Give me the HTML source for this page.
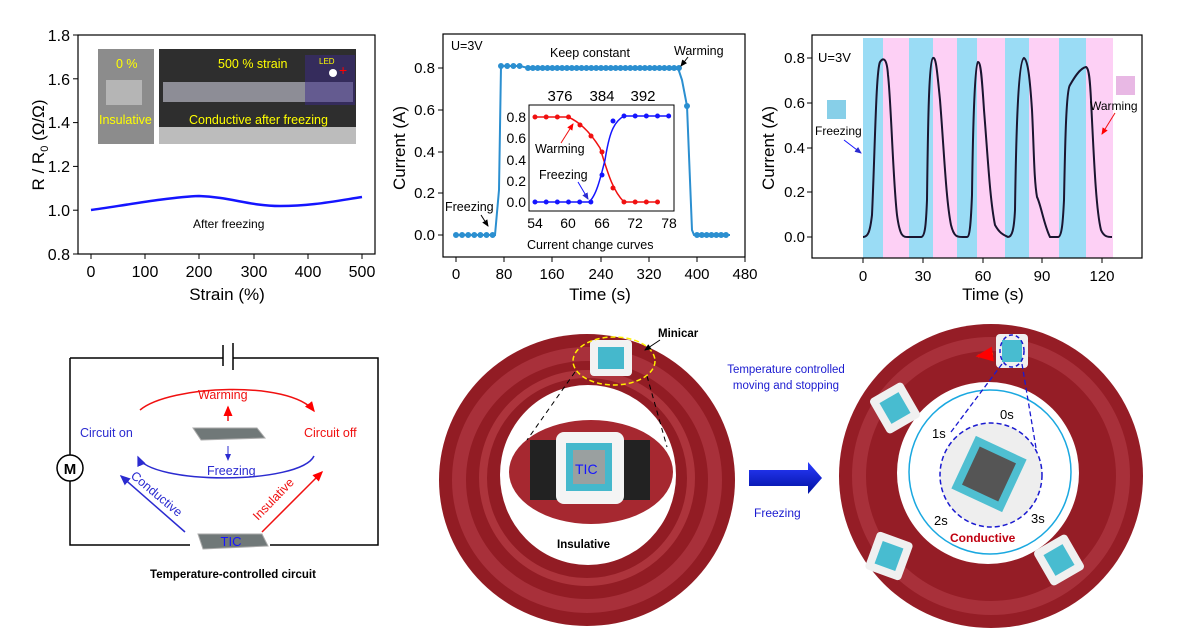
<!DOCTYPE html>
<html><head><meta charset="utf-8"><style>
body{margin:0;background:#fff;}
svg{display:block;font-family:"Liberation Sans",Arial,sans-serif;}
</style></head><body>
<svg width="1179" height="630" viewBox="0 0 1179 630" xmlns="http://www.w3.org/2000/svg">
<defs>
<marker id="ab" markerWidth="8" markerHeight="8" refX="6" refY="3" orient="auto"><path d="M0,0 L7,3 L0,6z" fill="#2b2bd0"/></marker>
<marker id="ar" markerWidth="8" markerHeight="8" refX="6" refY="3" orient="auto"><path d="M0,0 L7,3 L0,6z" fill="#f00"/></marker>
<marker id="ak" markerWidth="8" markerHeight="8" refX="6" refY="3" orient="auto"><path d="M0,0 L7,3 L0,6z" fill="#000"/></marker>
<marker id="ac" markerWidth="8" markerHeight="8" refX="6" refY="3" orient="auto"><path d="M0,0 L7,3 L0,6z" fill="#1aa8e0"/></marker>
<linearGradient id="bar" x1="0" y1="0" x2="0" y2="1"><stop offset="0" stop-color="#2a3cff"/><stop offset="1" stop-color="#0010a0"/></linearGradient>
</defs>

<!-- ===== Panel 1 ===== -->
<rect x="78" y="35" width="297" height="219" fill="none" stroke="#000" stroke-width="1.2"/>
<g stroke="#000" stroke-width="1">
<line x1="78" y1="35" x2="73" y2="35"/><line x1="78" y1="78.8" x2="73" y2="78.8"/><line x1="78" y1="122.6" x2="73" y2="122.6"/><line x1="78" y1="166.4" x2="73" y2="166.4"/><line x1="78" y1="210.2" x2="73" y2="210.2"/><line x1="78" y1="254" x2="73" y2="254"/>
<line x1="91" y1="254" x2="91" y2="259"/><line x1="145" y1="254" x2="145" y2="259"/><line x1="199" y1="254" x2="199" y2="259"/><line x1="254" y1="254" x2="254" y2="259"/><line x1="308" y1="254" x2="308" y2="259"/><line x1="362" y1="254" x2="362" y2="259"/>
</g>
<g font-size="16" text-anchor="end">
<text x="70" y="41">1.8</text><text x="70" y="85">1.6</text><text x="70" y="128">1.4</text><text x="70" y="172">1.2</text><text x="70" y="216">1.0</text><text x="70" y="260">0.8</text>
</g>
<g font-size="16" text-anchor="middle">
<text x="91" y="277">0</text><text x="145" y="277">100</text><text x="199" y="277">200</text><text x="254" y="277">300</text><text x="308" y="277">400</text><text x="362" y="277">500</text>
<text x="227" y="300" font-size="17">Strain (%)</text>
</g>
<text transform="translate(44,145) rotate(-90)" font-size="17" text-anchor="middle">R / R<tspan font-size="11" dy="4">0</tspan><tspan dy="-4"> (Ω/Ω)</tspan></text>
<rect x="98" y="49" width="56" height="95" fill="#8c8c8c"/>
<rect x="106" y="80" width="36" height="25" fill="#b5b5b5"/>
<rect x="159" y="49" width="197" height="95" fill="#2e2e2e"/>
<rect x="163" y="82" width="190" height="20" fill="#8d8d96"/>
<rect x="159" y="127" width="197" height="17" fill="#bcbcbc"/>
<rect x="305" y="55" width="50" height="50" fill="#3b2a8a" opacity="0.5"/>
<circle cx="333" cy="73" r="4" fill="#fff"/>
<text x="339" y="75" fill="#f00" font-size="14">+</text>
<g fill="#ffff00" font-size="12.5">
<text x="116" y="68">0 %</text><text x="218" y="68">500 % strain</text><text x="319" y="64" font-size="8">LED</text>
<text x="99" y="124">Insulative</text><text x="189" y="124">Conductive after freezing</text>
</g>
<path d="M91,210 C120,206 170,197 199,196 C230,197 250,206 280,206 C310,206 330,202 362,197" fill="none" stroke="#1515ff" stroke-width="2.5"/>
<text x="193" y="228" font-size="12">After freezing</text>

<!-- ===== Panel 2 ===== -->
<rect x="443" y="34" width="302" height="223" fill="none" stroke="#000" stroke-width="1.2"/>
<g stroke="#000" stroke-width="1">
<line x1="443" y1="68" x2="438" y2="68"/><line x1="443" y1="110" x2="438" y2="110"/><line x1="443" y1="152" x2="438" y2="152"/><line x1="443" y1="193" x2="438" y2="193"/><line x1="443" y1="235" x2="438" y2="235"/>
<line x1="456" y1="257" x2="456" y2="262"/><line x1="504" y1="257" x2="504" y2="262"/><line x1="552" y1="257" x2="552" y2="262"/><line x1="601" y1="257" x2="601" y2="262"/><line x1="649" y1="257" x2="649" y2="262"/><line x1="697" y1="257" x2="697" y2="262"/><line x1="745" y1="257" x2="745" y2="262"/>
</g>
<g font-size="15" text-anchor="end"><text x="435" y="73">0.8</text><text x="435" y="115">0.6</text><text x="435" y="157">0.4</text><text x="435" y="198">0.2</text><text x="435" y="240">0.0</text></g>
<g font-size="15" text-anchor="middle"><text x="456" y="279">0</text><text x="504" y="279">80</text><text x="552" y="279">160</text><text x="601" y="279">240</text><text x="649" y="279">320</text><text x="697" y="279">400</text><text x="745" y="279">480</text>
<text x="600" y="300" font-size="17">Time (s)</text></g>
<text transform="translate(405,148) rotate(-90)" font-size="17" text-anchor="middle">Current (A)</text>
<path d="M456,235 L495,235 L499,190 L501,66 L520,66 L528,68 L678,68 L682,80 L687,106 L692,230 L694,235 L730,235" fill="none" stroke="#2b8fd0" stroke-width="2"/>
<g stroke="#2b8fd0" stroke-width="6" stroke-linecap="round" fill="none">
<path d="M456,235 L493,235" stroke-dasharray="0 6.1"/>
<path d="M501,66 L520,66" stroke-dasharray="0 6.2"/>
<path d="M528,68 L679,68" stroke-dasharray="0 4.87"/>
<path d="M687,106 L687.1,106" stroke-dasharray="0 10"/>
<path d="M697,235 L726,235" stroke-dasharray="0 4.83"/>
</g>
<text x="451" y="50" font-size="12.5">U=3V</text>
<text x="550" y="57" font-size="12.5">Keep constant</text>
<text x="674" y="55" font-size="12.5">Warming</text>
<line x1="688" y1="57" x2="681" y2="66" stroke="#000" marker-end="url(#ak)"/>
<text x="445" y="211" font-size="12.5">Freezing</text>
<line x1="481" y1="215" x2="488" y2="226" stroke="#000" marker-end="url(#ak)"/>
<!-- inset -->
<rect x="529" y="105" width="145" height="106" fill="#fff" stroke="#000"/>
<g font-size="14" text-anchor="end"><text x="526" y="122">0.8</text><text x="526" y="143">0.6</text><text x="526" y="165">0.4</text><text x="526" y="186">0.2</text><text x="526" y="207">0.0</text></g>
<g font-size="14" text-anchor="middle"><text x="535" y="228">54</text><text x="568" y="228">60</text><text x="602" y="228">66</text><text x="635" y="228">72</text><text x="669" y="228">78</text>
<text x="560" y="101" font-size="15">376</text><text x="602" y="101" font-size="15">384</text><text x="643" y="101" font-size="15">392</text></g>
<text x="527" y="249" font-size="12.5">Current change curves</text>
<path d="M535,117 L568,117 C580,122 590,132 600,148 C607,170 612,190 624,202 L658,202" fill="none" stroke="#f01010" stroke-width="1.5"/>
<path d="M535,202 L589,202 C596,196 600,180 605,160 C609,135 613,122 624,116 L669,116" fill="none" stroke="#1515ff" stroke-width="1.5"/>
<g stroke-width="5" stroke-linecap="round">
<path d="M535,117 L569,117" stroke="#f01010" stroke-dasharray="0 11.17"/>
<path d="M624,202 L659,202" stroke="#f01010" stroke-dasharray="0 11.17"/>
<path d="M535,202 L592,202" stroke="#1515ff" stroke-dasharray="0 11.17"/>
<path d="M624,116 L669,116" stroke="#1515ff" stroke-dasharray="0 11.17"/>
</g>
<g fill="#f01010"><circle cx="580" cy="125" r="2.5"/><circle cx="591" cy="136" r="2.5"/><circle cx="602" cy="152" r="2.5"/><circle cx="613" cy="188" r="2.5"/></g>
<g fill="#1515ff"><circle cx="602" cy="175" r="2.5"/><circle cx="613" cy="121" r="2.5"/></g>
<text x="535" y="153" font-size="12.5">Warming</text>
<line x1="561" y1="143" x2="573" y2="124" stroke="#f01010" marker-end="url(#ar)"/>
<text x="539" y="179" font-size="12.5">Freezing</text>
<line x1="578" y1="182" x2="588" y2="199" stroke="#1515ff" marker-end="url(#ab)"/>

<!-- ===== Panel 3 ===== -->
<g>
<rect x="863" y="38" width="20" height="220" fill="#9adcf5"/><rect x="883" y="38" width="26" height="220" fill="#fdd0f5"/>
<rect x="909" y="38" width="24" height="220" fill="#9adcf5"/><rect x="933" y="38" width="24" height="220" fill="#fdd0f5"/>
<rect x="957" y="38" width="20" height="220" fill="#9adcf5"/><rect x="977" y="38" width="28" height="220" fill="#fdd0f5"/>
<rect x="1005" y="38" width="24" height="220" fill="#9adcf5"/><rect x="1029" y="38" width="30" height="220" fill="#fdd0f5"/>
<rect x="1059" y="38" width="27" height="220" fill="#9adcf5"/><rect x="1086" y="38" width="27" height="220" fill="#fdd0f5"/>
</g>
<rect x="812" y="35" width="330" height="223" fill="none" stroke="#000" stroke-width="1.2"/>
<g stroke="#000" stroke-width="1">
<line x1="812" y1="58" x2="807" y2="58"/><line x1="812" y1="103" x2="807" y2="103"/><line x1="812" y1="148" x2="807" y2="148"/><line x1="812" y1="192" x2="807" y2="192"/><line x1="812" y1="237" x2="807" y2="237"/>
<line x1="863" y1="258" x2="863" y2="263"/><line x1="923" y1="258" x2="923" y2="263"/><line x1="983" y1="258" x2="983" y2="263"/><line x1="1042" y1="258" x2="1042" y2="263"/><line x1="1102" y1="258" x2="1102" y2="263"/>
</g>
<g font-size="15" text-anchor="end"><text x="805" y="63">0.8</text><text x="805" y="108">0.6</text><text x="805" y="153">0.4</text><text x="805" y="197">0.2</text><text x="805" y="242">0.0</text></g>
<g font-size="15" text-anchor="middle"><text x="863" y="281">0</text><text x="923" y="281">30</text><text x="983" y="281">60</text><text x="1042" y="281">90</text><text x="1102" y="281">120</text>
<text x="993" y="300" font-size="17">Time (s)</text></g>
<text transform="translate(774,148) rotate(-90)" font-size="17" text-anchor="middle">Current (A)</text>
<path d="M863,237 C868,237 870,232 872,215 C875,150 876,70 880,62 C884,56 887,60 888,75 C891,100 893,180 897,215 C900,237 903,237 908,237 L921,237 C925,237 926,225 927,200 C928,120 929,60 933,58 C936,57 937,70 940,100 C944,150 946,200 951,225 C954,237 957,237 963,237 L967,237 C970,237 971,220 972,195 C973,120 975,64 978,62 C981,62 982,80 984,110 C988,160 990,200 995,225 C1000,234 1004,235 1008,237 C1012,237 1014,230 1015,210 C1016,140 1018,60 1024,58 C1028,60 1030,80 1032,110 C1034,150 1034,180 1037,197 C1041,205 1044,225 1050,237 L1058,237 C1062,237 1063,220 1064,200 C1065,150 1066,90 1070,85 C1074,78 1080,68 1086,67 C1089,68 1090,80 1091,100 C1094,160 1096,210 1101,230 C1104,237 1108,237 1112,237" fill="none" stroke="#1a1530" stroke-width="2"/>
<text x="818" y="62" font-size="13">U=3V</text>
<rect x="827" y="100" width="19" height="19" fill="#87cfe8"/>
<text x="815" y="135" font-size="12">Freezing</text>
<line x1="844" y1="140" x2="861" y2="153" stroke="#1515ff" marker-end="url(#ab)"/>
<rect x="1116" y="76" width="19" height="19" fill="#e8b8e4"/>
<text x="1090" y="110" font-size="12">Warming</text>
<line x1="1115" y1="113" x2="1102" y2="134" stroke="#f01010" marker-end="url(#ar)"/>

<!-- ===== Circuit ===== -->
<path d="M70,358 L223,358 M233,358 L378,358 L378,545 L270,545 M190,545 L70,545 L70,358" fill="none" stroke="#000" stroke-width="1.5"/>
<line x1="223" y1="345" x2="223" y2="366" stroke="#000" stroke-width="1.5"/>
<line x1="233" y1="343" x2="233" y2="370" stroke="#000" stroke-width="1.5"/>
<circle cx="70" cy="468" r="13" fill="#fff" stroke="#000" stroke-width="1.5"/>
<text x="70" y="474" font-size="15" font-weight="bold" text-anchor="middle">M</text>
<path d="M140,410 C170,385 290,380 314,411" fill="none" stroke="#f01010" stroke-width="1.5" marker-end="url(#ar)"/>
<text x="198" y="399" fill="#f01010" font-size="12.5">Warming</text>
<line x1="228" y1="421" x2="228" y2="407" stroke="#f01010" stroke-width="1.5" marker-end="url(#ar)"/>
<path d="M193,428 L257,428 L265,438 L201,440 Z" fill="#707878" stroke="#aaa"/>
<line x1="228" y1="446" x2="228" y2="460" stroke="#2b2bd0" marker-end="url(#ab)"/>
<text x="80" y="437" fill="#2b2bd0" font-size="12.5">Circuit on</text>
<text x="304" y="437" fill="#f01010" font-size="12.5">Circuit off</text>
<path d="M314,456 C300,485 150,485 138,457" fill="none" stroke="#2b2bd0" stroke-width="1.5" marker-end="url(#ab)"/>
<text x="207" y="475" fill="#2b2bd0" font-size="12.5">Freezing</text>
<line x1="185" y1="532" x2="121" y2="476" stroke="#2b2bd0" stroke-width="1.5" marker-end="url(#ab)"/>
<text transform="translate(130,477) rotate(40)" fill="#2b2bd0" font-size="12.5">Conductive</text>
<line x1="262" y1="532" x2="322" y2="472" stroke="#f01010" stroke-width="1.5" marker-end="url(#ar)"/>
<text transform="translate(258,521) rotate(-46)" fill="#f01010" font-size="12.5">Insulative</text>
<path d="M198,534 L262,534 L268,546 L203,549 Z" fill="#707878" stroke="#aaa"/>
<text x="231" y="546" fill="#1515ff" font-size="13" text-anchor="middle">TIC</text>
<text x="233" y="578" font-size="11.5" font-weight="bold" text-anchor="middle">Temperature-controlled circuit</text>

<!-- ===== Ring 1 ===== -->
<ellipse cx="587" cy="480" rx="148" ry="146" fill="#921c24"/>
<ellipse cx="587" cy="480" rx="128" ry="126" fill="none" stroke="#a8303a" stroke-width="14"/>
<ellipse cx="587" cy="478" rx="104" ry="104" fill="none" stroke="#ad343c" stroke-width="8"/>
<ellipse cx="588" cy="475" rx="88" ry="90" fill="#fff"/>
<ellipse cx="591" cy="472" rx="82" ry="52" fill="#a62830"/>
<rect x="530" y="440" width="30" height="60" fill="#222"/>
<rect x="620" y="440" width="30" height="60" fill="#222"/>
<rect x="556" y="432" width="68" height="72" rx="8" fill="#f4f4f4"/>
<rect x="566" y="443" width="46" height="48" fill="#45b8cc"/>
<rect x="573" y="450" width="32" height="34" fill="#9aa0a0"/>
<text x="575" y="474" fill="#1515ff" font-size="14">TIC</text>
<rect x="590" y="340" width="42" height="36" rx="4" fill="#f2f2f2"/>
<rect x="598" y="347" width="26" height="22" fill="#45b8cc"/>
<ellipse cx="614" cy="361" rx="41" ry="24" fill="none" stroke="#ffee00" stroke-width="1.5" stroke-dasharray="5 3"/>
<line x1="575" y1="372" x2="527" y2="440" stroke="#000" stroke-dasharray="5 4"/>
<line x1="647" y1="376" x2="667" y2="447" stroke="#000" stroke-dasharray="5 4"/>
<text x="658" y="337" font-size="11.5" font-weight="bold">Minicar</text>
<line x1="660" y1="340" x2="645" y2="350" stroke="#000" marker-end="url(#ak)"/>
<text x="557" y="548" font-size="11.5" font-weight="bold">Insulative</text>

<!-- arrow -->
<path d="M749,470 L808,470 L808,462 L822,478 L808,494 L808,486 L749,486 Z" fill="url(#bar)"/>
<text x="754" y="517" fill="#1a1ad0" font-size="12">Freezing</text>
<text x="786" y="373" fill="#1a1ad0" font-size="11.5" text-anchor="middle">Temperature controlled</text>
<text x="786" y="389" fill="#1a1ad0" font-size="11.5" text-anchor="middle">moving and stopping</text>

<!-- ===== Ring 2 ===== -->
<circle cx="991" cy="476" r="152" fill="#951d26"/>
<circle cx="991" cy="476" r="132" fill="none" stroke="#a8303a" stroke-width="14"/>
<circle cx="988" cy="473" r="91" fill="#fff"/>
<g fill="#f0f0f0"><rect x="996" y="334" width="32" height="34" rx="4"/><rect x="876" y="388" width="38" height="40" rx="4" transform="rotate(-30 895 408)"/><rect x="870" y="536" width="38" height="40" rx="4" transform="rotate(20 889 556)"/><rect x="1040" y="540" width="38" height="40" rx="4" transform="rotate(-30 1059 560)"/></g>
<g fill="#48bcd0"><rect x="1002" y="340" width="20" height="22"/><rect x="884" y="396" width="22" height="24" transform="rotate(-30 895 408)"/><rect x="878" y="544" width="22" height="24" transform="rotate(20 889 556)"/><rect x="1048" y="548" width="22" height="24" transform="rotate(-30 1059 560)"/></g>
<ellipse cx="990" cy="472" rx="81" ry="82" fill="none" stroke="#1aa8e0" stroke-width="1.5"/>
<ellipse cx="991" cy="475" rx="51" ry="52" fill="#eee" stroke="#1a1ad0" stroke-width="1.5" stroke-dasharray="5 3"/>
<rect x="961" y="445" width="56" height="58" fill="#4fbfd1" transform="rotate(25 989 474)"/>
<rect x="969" y="453" width="40" height="42" fill="#555" transform="rotate(25 989 474)"/>
<ellipse cx="1012" cy="351" rx="12" ry="16" fill="none" stroke="#1a1ad0" stroke-width="1.5" stroke-dasharray="4 3"/>
<line x1="1002" y1="364" x2="951" y2="432" stroke="#1a1ad0" stroke-width="1.3" stroke-dasharray="5 3"/>
<line x1="1022" y1="364" x2="1036" y2="448" stroke="#1a1ad0" stroke-width="1.3" stroke-dasharray="5 3"/>
<line x1="993" y1="354" x2="978" y2="356" stroke="#ffd000" stroke-width="2.5" marker-end="url(#ar)"/>
<g font-size="13"><text x="1000" y="419">0s</text><text x="932" y="438">1s</text><text x="934" y="525">2s</text><text x="1031" y="523">3s</text></g>
<text x="950" y="542" fill="#c00010" font-size="12" font-weight="bold">Conductive</text>
</svg>
</body></html>
